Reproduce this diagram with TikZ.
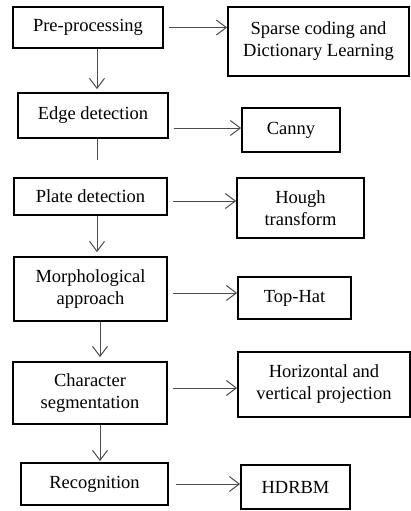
\documentclass[tikz,border=0pt]{standalone}
\usepackage{fontspec}
\setmainfont{Liberation Serif}
\usepackage{tikz}
\usetikzlibrary{positioning}
\usetikzlibrary{arrows.meta}

\begin{document}
\begin{tikzpicture}[x=1pt, y=-1pt,
    every node/.style={draw, line width=1.7pt, align=center, inner sep=2pt,
      font=\fontsize{18.5}{22}\selectfont},
    flow/.style={gray!60!black, line width=1pt, -{Straight Barb[length=10pt, width=15pt]}}]
            \useasboundingbox (0,0) rectangle (411,511);
            % Boxes
            \node[minimum width=150, minimum height=41] (pre) at (88,27.5) {Pre-processing};
            \node[minimum width=181, minimum height=69] (sparse) at (318.5,41.5) {Sparse coding and\\Dictionary Learning};
            \node[minimum width=150, minimum height=45] (edge) at (93,115.5) {Edge detection};
            \node[minimum width=98, minimum height=44] (canny) at (291,130) {Canny};
            \node[minimum width=153, minimum height=37] (plate) at (90.5,196.5) {Plate detection};
            \node[minimum width=127, minimum height=60] (hough) at (300.5,208) {Hough\\transform};
            \node[minimum width=153, minimum height=64] (morph) at (90.5,289) {Morphological\\approach};
            \node[minimum width=113, minimum height=42] (tophat) at (294.5,298) {Top-Hat};
            \node[minimum width=154, minimum height=62] (charseg) at (90,393) {Character\\segmentation};
            \node[minimum width=172, minimum height=65] (horiz) at (324,384.5) {Horizontal and\\vertical projection};
            \node[minimum width=147, minimum height=42] (recog) at (94.5,484) {Recognition};
            \node[minimum width=109, minimum height=44] (hdrbm) at (295.5,487) {HDRBM};
            \coordinate (gap) at (97,160);

            % Arrows
            \draw[flow] ([xshift=5]pre.east) -- (pre.east -| sparse.west);
            \draw[flow] ([xshift=5,yshift=2]edge.east |- canny.west) -- ([yshift=2]canny.west);
            \draw[flow] ([xshift=5,yshift=-4.5]plate.east) -- ([yshift=-4.5]plate.east -| hough.west);
            \draw[flow] ([xshift=5,yshift=-4]morph.east) -- ([yshift=-4]morph.east -| tophat.west);
            \draw[flow] ([xshift=5,yshift=5]charseg.east) -- ([yshift=5]charseg.east -| horiz.west);
            \draw[flow] ([xshift=7]recog.east) -- (recog.east -| hdrbm.west);
            \draw[flow] (gap |- pre.south) -- ([yshift=3]gap |- edge.north);
            \draw[gray!60!black, line width=1pt] (gap |- edge.south) -- (gap);
            \draw[flow] (gap |- plate.south) -- ([yshift=4]gap |- morph.north);
            \draw[flow] ([xshift=9.5]morph.south) -- ([xshift=10,yshift=4]charseg.north);
            \draw[flow] ([xshift=10]charseg.south) -- ([xshift=10,yshift=1]charseg.south |- recog.north);
          \end{tikzpicture}
\end{document}
